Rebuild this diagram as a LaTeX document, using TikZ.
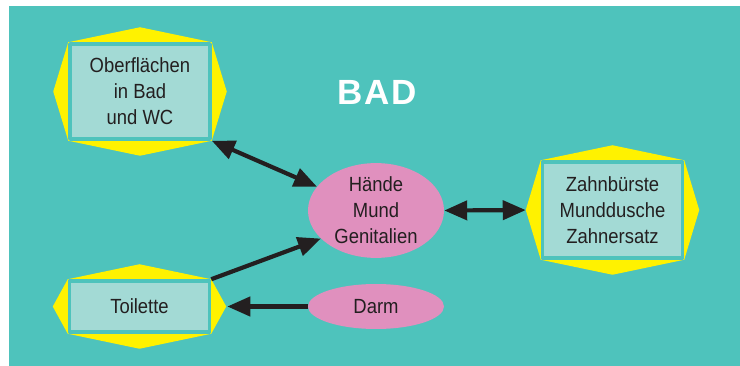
\documentclass[tikz,border=0pt]{standalone}
\usepackage{fontspec}
\setmainfont[FakeStretch=0.9]{Liberation Sans}
\newfontfamily\titlefont[LetterSpace=5]{Liberation Sans}
\usetikzlibrary{arrows.meta,shapes.geometric,backgrounds}
\definecolor{badteal}{HTML}{4EC3BC}
\definecolor{boxfill}{HTML}{A3DAD5}
\definecolor{sunyellow}{HTML}{FFF200}
\definecolor{pinkish}{HTML}{E090BE}
\definecolor{ink}{HTML}{231F20}
\tikzset{
  every picture/.style={line join=round, >=Stealth},
  place/.style={rectangle, fill=boxfill, draw=badteal, line width=3.5pt,
    minimum width=140, inner sep=0pt, align=center, text=ink,
    font=\fontsize{20.5}{26}\selectfont},
  germ/.style={ellipse, fill=pinkish, minimum width=136, inner sep=0pt,
    align=center, text=ink, font=\fontsize{20.5}{26}\selectfont},
  link/.style={draw=ink, line width=4.2pt,
    arrows={-{Triangle[length=23pt,width=19pt]}}},
  dlink/.style={link, arrows={{Triangle[length=23pt,width=19pt]}-{Triangle[length=23pt,width=19pt]}}},
}

\begin{document}
\begin{tikzpicture}[x=1pt,y=-1pt]
\useasboundingbox (0,0) rectangle (740,366);
% places
\node[place, minimum height=95] (ober) at (140,91.5) {Oberflächen\\in Bad\\und WC};
\node[place, minimum height=51] (toil) at (139.5,306.5) {Toilette};
\node[place, minimum height=96] (zahn) at (612.5,210) {Zahnbürste\\Munddusche\\Zahnersatz};
% sources
\node[germ, minimum height=91] (hande) at (376,210.5) {Hände\\Mund\\Genitalien};
\node[germ, minimum height=45] (darm) at (376,306.5) {Darm};
\node[text=white, font=\titlefont\bfseries\fontsize{35}{40}\selectfont] (bad) at (377,92) {BAD};
% arrows
\draw[dlink] (ober.south east) -- (hande.158);
\draw[link] (toil.north east) -- (hande.207);
\draw[link, shorten >=16pt] (darm.west) -- (toil.east);
\draw[dlink, shorten >=15pt] (hande.east) -- (zahn.west);
% back: teal plate and yellow octagons
\begin{scope}[on background layer]
\fill[badteal] (9,6) rectangle (740,366);
\foreach \b in {ober,toil,zahn}{
  \fill[sunyellow] (\b.north west) -- ([yshift=15]\b.north) -- (\b.north east)
    -- ([xshift=15]\b.east) -- (\b.south east) -- ([yshift=-15]\b.south)
    -- (\b.south west) -- ([xshift=-15]\b.west) -- cycle;
}
\end{scope}
\end{tikzpicture}
\end{document}
